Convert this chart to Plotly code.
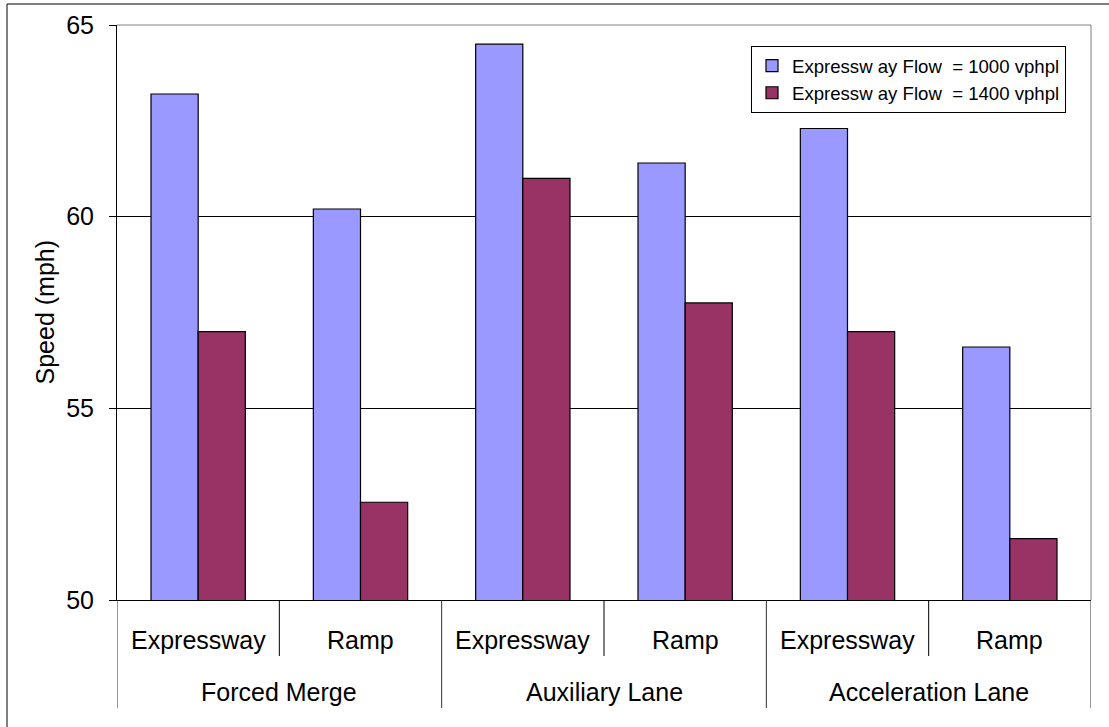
import plotly.graph_objects as go

groups = ["Forced Merge", "Auxiliary Lane", "Acceleration Lane"]
subs = ["Expressway", "Ramp"]
flow1000 = [63.2, 60.2, 64.5, 61.4, 62.3, 56.6]
flow1400 = [57.0, 52.55, 61.0, 57.75, 57.0, 51.6]
series_names = ["Expressw ay Flow  = 1000 vphpl", "Expressw ay Flow  = 1400 vphpl"]
y_ticks = [50, 55, 60, 65]

cats = [f"{g} | {s}" for g in groups for s in subs]

FONT = "Liberation Sans, Arial, sans-serif"
W, H = 1109, 727
L, R, T, B = 117, 1091, 25, 600
pw, ph = R - L, B - T


def px_x(x):
    return (x - L) / pw


def px_y(y):
    return (B - y) / ph


fig = go.Figure()
fig.add_trace(go.Bar(x=cats, y=flow1000, name=series_names[0],
                     marker=dict(color="#9999FF", line=dict(color="black", width=1.2))))
fig.add_trace(go.Bar(x=cats, y=flow1400, name=series_names[1],
                     marker=dict(color="#993366", line=dict(color="black", width=1.2))))

shapes = []
annotations = []
# outer chart border
shapes.append(dict(type="rect", xref="paper", yref="paper",
                   x0=px_x(7), x1=px_x(1140), y0=px_y(760), y1=px_y(4),
                   line=dict(color="black", width=1), layer="below"))
# plot area border top/right (gray)
shapes.append(dict(type="line", xref="paper", yref="paper", x0=0, x1=1, y0=1, y1=1,
                   line=dict(color="#808080", width=1), layer="above"))
shapes.append(dict(type="line", xref="paper", yref="paper", x0=1, x1=1, y0=0, y1=1,
                   line=dict(color="#808080", width=1), layer="above"))

n = len(cats)
for i in range(n + 1):
    xb = i - 0.5
    long = (i % 2 == 0)
    shapes.append(dict(type="line", xref="x", yref="paper", x0=xb, x1=xb,
                       y0=0, y1=px_y(708 if long else 656),
                       line=dict(color="black" if not long else "#303030", width=1)))

for i, c in enumerate(cats):
    annotations.append(dict(x=c, xref="x", y=px_y(640), yref="paper",
                            text=subs[i % 2], showarrow=False,
                            xanchor="center", yanchor="middle",
                            font=dict(family=FONT, size=25, color="black")))
for gi, g in enumerate(groups):
    annotations.append(dict(x=2 * gi + 0.5, xref="x", y=px_y(692), yref="paper",
                            text=g, showarrow=False,
                            xanchor="center", yanchor="middle",
                            font=dict(family=FONT, size=25, color="black")))
annotations.append(dict(x=px_x(44), xref="paper", y=0.5, yref="paper",
                        text="Speed (mph)", textangle=-90, showarrow=False,
                        xanchor="center", yanchor="middle",
                        font=dict(family=FONT, size=25, color="black")))

fig.update_layout(
    width=W, height=H,
    margin=dict(l=L, r=W - R, t=T, b=H - B, pad=0),
    paper_bgcolor="white", plot_bgcolor="white",
    barmode="group", bargap=0.419, bargroupgap=0,
    font=dict(family=FONT, size=25, color="black"),
    showlegend=True,
    legend=dict(x=px_x(751), y=px_y(46), xanchor="left", yanchor="top",
                bgcolor="white", bordercolor="black", borderwidth=1,
                font=dict(family=FONT, size=18.6, color="black"),
                tracegroupgap=0),
    shapes=shapes,
    annotations=annotations,
)
fig.update_xaxes(type="category", showticklabels=False, ticks="",
                 showline=True, linecolor="black", linewidth=1,
                 showgrid=False, zeroline=False, range=[-0.5, n - 0.5], fixedrange=True)
fig.update_yaxes(range=[50, 65], tickvals=y_ticks, ticks="outside", ticklen=7,
                 tickcolor="black", showline=True, linecolor="black", linewidth=1,
                 showgrid=True, gridcolor="black", gridwidth=1, zeroline=False,
                 ticklabelstandoff=10,
                 tickfont=dict(family=FONT, size=25, color="black"), fixedrange=True)

fig.write_html("out.html", config={"displayModeBar": False},
               post_script="document.body.style.margin='0';document.body.style.overflow='hidden';")
